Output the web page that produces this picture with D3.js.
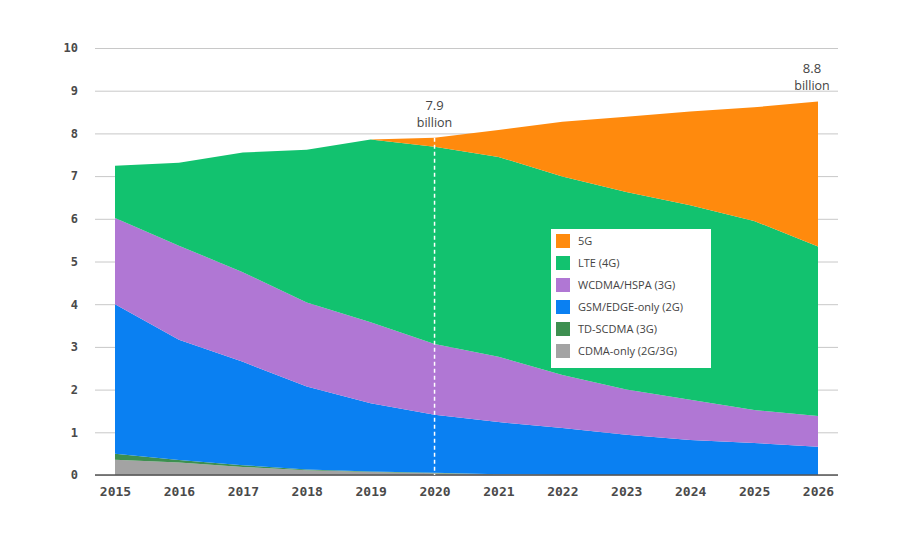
<!DOCTYPE html>
<html>
<head>
<meta charset="utf-8">
<script src="https://cdn.jsdelivr.net/npm/d3@7"></script>
<style>
  body { margin: 0; background: #fff; }
  svg { display: block; }
</style>
</head>
<body>
<svg id="svg" width="900" height="540"></svg>
<script>
const years = [2015, 2016, 2017, 2018, 2019, 2020, 2021, 2022, 2023, 2024, 2025, 2026]

// subscriptions in billions, bottom layer first
const cdma = [0.36, 0.29, 0.19, 0.11, 0.07, 0.04, 0.02, 0, 0, 0, 0, 0]
const tdscdma = [0.14, 0.06, 0.04, 0.02, 0.01, 0.01, 0, 0, 0, 0, 0, 0]
const gsm = [3.5, 2.82, 2.42, 1.94, 1.6, 1.36, 1.22, 1.1, 0.94, 0.82, 0.75, 0.66]
const wcdma = [2.02, 2.2, 2.1, 1.97, 1.9, 1.66, 1.53, 1.24, 1.06, 0.94, 0.77, 0.72]
const lte = [1.22, 1.94, 2.8, 3.58, 4.28, 4.62, 4.68, 4.65, 4.63, 4.56, 4.43, 3.97]
const fiveG = [0, 0, 0, 0, 0, 0.21, 0.63, 1.28, 1.76, 2.19, 2.66, 3.4]

const seriesKeys = ['cdma', 'tdscdma', 'gsm', 'wcdma', 'lte', 'fiveG']
const seriesLabels = ['CDMA-only (2G/3G)', 'TD-SCDMA (3G)', 'GSM/EDGE-only (2G)', 'WCDMA/HSPA (3G)', 'LTE (4G)', '5G']
const seriesColours = ['#a3a3a3', '#3d8f50', '#0a80f2', '#b077d4', '#12c26f', '#ff8a0d']

const yTicks = [0, 1, 2, 3, 4, 5, 6, 7, 8, 9, 10]
const callouts = [
  { year: 2020, value: '7.9', unit: 'billion' },
  { year: 2026, value: '8.8', unit: 'billion' }
]

const table = years.map((y, i) => ({
  year: y, cdma: cdma[i], tdscdma: tdscdma[i], gsm: gsm[i],
  wcdma: wcdma[i], lte: lte[i], fiveG: fiveG[i]
}))

const svg = d3.select('#svg')

const xScale = d3.scaleLinear()
  .domain(d3.extent(years))
  .range([115, 818])

const yScale = d3.scaleLinear()
  .domain([0, 10])
  .range([475, 48])

const colourScale = d3.scaleOrdinal()
  .domain(seriesKeys)
  .range(seriesColours)

// gridlines
const yAxis = d3.axisLeft(yScale)
  .tickValues(yTicks)
  .tickSize(-(838 - 95))
  .tickPadding(17)

const gy = svg.append('g')
  .attr('transform', 'translate(95,0)')
  .call(yAxis)
gy.select('.domain').remove()
gy.selectAll('line').attr('stroke', '#c8c8c8').attr('stroke-width', 1)
gy.selectAll('text')
  .style('font-family', 'DejaVu Sans Mono')
  .style('font-weight', 'bold')
  .style('font-size', '12px')
  .attr('fill', '#4a4a4a')

// stacked areas
const stack = d3.stack().keys(seriesKeys)
const layers = stack(table)

const area = d3.area()
  .x(d => xScale(d.data.year))
  .y0(d => yScale(d[0]))
  .y1(d => yScale(d[1]))

svg.append('g')
  .selectAll('path')
  .data(layers)
  .enter()
  .append('path')
  .attr('d', area)
  .attr('fill', d => colourScale(d.key))

// baseline
svg.append('line')
  .attr('x1', 95).attr('x2', 838)
  .attr('y1', yScale(0)).attr('y2', yScale(0))
  .attr('stroke', '#555').attr('stroke-width', 1.5)

// x axis labels
const xAxis = d3.axisBottom(xScale)
  .tickValues(years)
  .tickFormat(d3.format('d'))
  .tickSize(0)
  .tickPadding(12)

const gx = svg.append('g')
  .attr('transform', `translate(0,${yScale(0)})`)
  .call(xAxis)
gx.select('.domain').remove()
gx.selectAll('text')
  .style('font-family', 'DejaVu Sans Mono')
  .style('font-weight', 'bold')
  .style('font-size', '13px')
  .attr('fill', '#4a4a4a')

// dashed marker at 2020
const totals = table.map(d => seriesKeys.reduce((s, k) => s + d[k], 0))
const i2020 = years.indexOf(2020)
svg.append('line')
  .attr('x1', xScale(2020)).attr('x2', xScale(2020))
  .attr('y1', yScale(totals[i2020])).attr('y2', yScale(0))
  .attr('stroke', '#fff')
  .attr('stroke-width', 1.5)
  .attr('stroke-dasharray', '4,3')

// callouts
const cg = svg.append('g')
  .selectAll('g')
  .data(callouts)
  .enter()
  .append('g')
  .attr('transform', d => {
    const t = totals[years.indexOf(d.year)]
    return `translate(${xScale(d.year) - (d.year === 2026 ? 6 : 0)},${yScale(t) - 28})`
  })

cg.append('text')
  .text(d => d.value)
  .attr('text-anchor', 'middle')
  .style('font-family', 'Open Sans')
  .style('font-size', '13px')
  .attr('fill', '#444')

cg.append('text')
  .text(d => d.unit)
  .attr('y', 17)
  .attr('text-anchor', 'middle')
  .style('font-family', 'Open Sans')
  .style('font-size', '12.5px')
  .attr('fill', '#444')

// legend
const legend = svg.append('g').attr('transform', 'translate(551,229)')
legend.append('rect')
  .attr('width', 160).attr('height', 139)
  .attr('fill', '#fff')

const legendItems = legend.selectAll('g')
  .data(seriesKeys.slice().reverse())
  .enter()
  .append('g')
  .attr('transform', (d, i) => `translate(5,${5 + i * 22})`)

legendItems.append('rect')
  .attr('width', 14).attr('height', 14)
  .attr('fill', d => colourScale(d))

legendItems.append('text')
  .text(d => seriesLabels[seriesKeys.indexOf(d)])
  .attr('x', 22)
  .attr('y', 11)
  .style('font-family', 'Open Sans')
  .style('font-size', '11px')
  .attr('fill', '#444')
</script>
</body>
</html>
